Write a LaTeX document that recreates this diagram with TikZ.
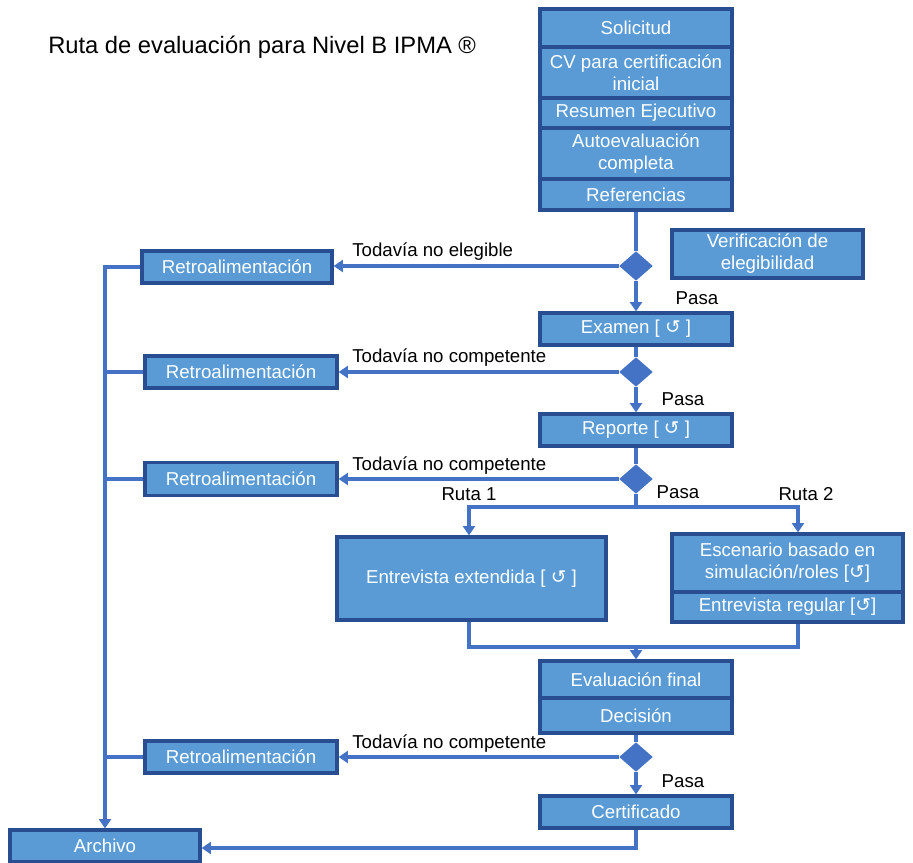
\documentclass[tikz,border=0pt]{standalone}
\usepackage{fontspec}
\setmainfont{Liberation Sans}
\newfontfamily\symfont{DejaVu Sans}
\usetikzlibrary{shapes.geometric,arrows.meta}
\definecolor{boxfill}{RGB}{91,155,213}
\definecolor{boxdraw}{RGB}{40,78,145}
\definecolor{linecol}{RGB}{68,114,196}
\newcommand{\pxu}{0.75pt}
\newcommand{\rot}{{\symfont\char"21BA}}
\tikzset{
  blk/.style n args={2}{draw=boxdraw, fill=boxfill, line width=2.4pt, text=white,
    font=\fontsize{14}{16.5}\selectfont, align=center, inner sep=0pt,
    minimum width=#1*\pxu, minimum height=#2*\pxu},
  dia/.style={diamond, draw=linecol, fill=linecol, line width=1pt, inner sep=0pt,
    minimum width=32*\pxu, minimum height=28*\pxu},
  conn/.style={draw=linecol, line width=2.8pt},
  arr/.style={conn, -{Triangle[length=7pt,width=9pt]}},
  lbl/.style={font=\fontsize{14}{16}\selectfont, text=black, inner sep=0pt}
}
\begin{document}
\begin{tikzpicture}[x=0.75pt,y=-0.75pt]
\useasboundingbox (0,0) rectangle (913,863);
\fill[white] (0,0) rectangle (913,863);
% title
\node[lbl, anchor=west, font=\fontsize{17.8}{20}\selectfont] (title) at (48,47) {Ruta de evaluación para Nivel B IPMA ®};
% top stack
\node[blk={192}{38}] (sol) at (636,28) {Solicitud};
\node[blk={192}{51}] (cv) at (636,72.5) {CV para certificación\\inicial};
\node[blk={192}{30}] (res) at (636,113) {Resumen Ejecutivo};
\node[blk={192}{51}] (auto) at (636,153.5) {Autoevaluación\\completa};
\node[blk={192}{31}] (ref) at (636,194.5) {Referencias};
% eligibility
\node[dia] (d1) at (636,266) {};
\node[blk={191}{48}] (verif) at (767.5,254) {Verificación de\\elegibilidad};
\node[blk={190}{32}] (r1) at (237,267) {Retroalimentación};
\node[lbl, anchor=west] (l1) at (352,252) {Todavía no elegible};
\node[lbl] (p1) at (697,298) {Pasa};
\node[blk={192}{32}] (exam) at (636,329) {Examen [ \rot\ ]};
% exam decision
\node[dia] (d2) at (636,372) {};
\node[blk={192}{32}] (r2) at (241,372) {Retroalimentación};
\node[lbl, anchor=west] (l2) at (352,358) {Todavía no competente};
\node[lbl] (p2) at (683,399) {Pasa};
\node[blk={192}{32}] (rep) at (636,430) {Reporte [ \rot\ ]};
% report decision
\node[dia] (d3) at (636,479) {};
\node[blk={192}{33}] (r3) at (241,479) {Retroalimentación};
\node[lbl, anchor=west] (l3) at (352,466) {Todavía no competente};
\node[lbl] (p3) at (678,492) {Pasa};
\node[lbl] (ruta1) at (469,494) {Ruta 1};
\node[lbl] (ruta2) at (806,494) {Ruta 2};
\coordinate (split) at (636,507);
\node[blk={269}{83}] (ext) at (471.5,578.5) {Entrevista extendida [ \rot\ ]};
\node[blk={231}{58}] (esc) at (787.5,563) {Escenario basado en\\simulación/roles [\rot]};
\node[blk={231}{30}] (reg) at (787.5,607) {Entrevista regular [\rot]};
\coordinate (merge) at (636,647);
% final
\node[blk={192}{37}] (eval) at (636,679.5) {Evaluación final};
\node[blk={192}{35}] (dec) at (636,715.5) {Decisión};
\node[dia] (d4) at (636,757) {};
\node[blk={192}{32}] (r4) at (241,757) {Retroalimentación};
\node[lbl, anchor=west] (l4) at (352,744) {Todavía no competente};
\node[lbl] (p4) at (683,781) {Pasa};
\node[blk={192}{32}] (cert) at (636,812) {Certificado};
\node[blk={190}{32}] (arch) at (105,846) {Archivo};
% connectors
\draw[conn] (ref.south) -- (d1.north);
\draw[arr] (d1.west) -- (d1.west -| r1.east);
\draw[arr] (d1.south) -- (exam.north);
\draw[conn] (exam.south) -- (d2.north);
\draw[arr] (d2.west) -- (r2.east);
\draw[arr] (d2.south) -- (rep.north);
\draw[conn] (rep.south) -- (d3.north);
\draw[arr] (d3.west) -- (r3.east);
\draw[conn] (d3.south) -- (split);
\draw[arr] (split) -| (ext.north -| ruta1.south);
\draw[arr] (split) -| ([xshift=10.5*\pxu]esc.north);
\draw[conn] (ext.south -| ruta1.south) |- (merge);
\draw[conn] ([xshift=10.5*\pxu]reg.south) |- (merge);
\draw[arr] (merge) -- (eval.north);
\draw[conn] (dec.south) -- (d4.north);
\draw[arr] (d4.west) -- (r4.east);
\draw[arr] (d4.south) -- (cert.north);
\draw[arr] (cert.south) |- ([yshift=-2*\pxu]arch.east);
\draw[arr] (r1.west) -| (arch.north);
\draw[conn] (r2.west) -- (r2.west -| arch.north);
\draw[conn] (r3.west) -- (r3.west -| arch.north);
\draw[conn] (r4.west) -- (r4.west -| arch.north);
\end{tikzpicture}
\end{document}
